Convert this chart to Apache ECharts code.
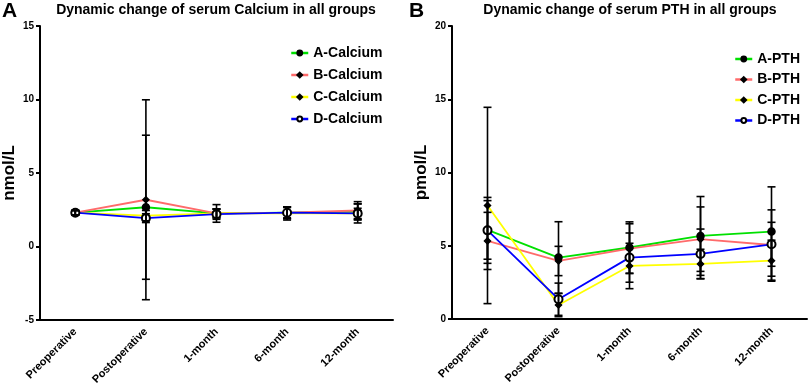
<!DOCTYPE html>
<html>
<head>
<meta charset="utf-8">
<script src="https://cdn.jsdelivr.net/npm/echarts@6/dist/echarts.min.js"></script>
<style>
html,body{margin:0;padding:0;background:#fff}
#main{width:809px;height:388px}
</style>
</head>
<body>
<div id="main"></div>
<script>
// time points
let categories = ['Preoperative', 'Postoperative', '1-month', '6-month', '12-month']

// serum calcium, mean and SD per group (nmol/L)
let calA = [2.3, 2.67, 2.25, 2.3, 2.35]
let calB = [2.3, 3.18, 2.25, 2.3, 2.45]
let calC = [2.3, 2.1, 2.25, 2.25, 2.25]
let calD = [2.3, 1.93, 2.2, 2.3, 2.25]
let calA_sd = [0.15, 4.9, 0.3, 0.4, 0.55]
let calB_sd = [0.15, 6.8, 0.3, 0.35, 0.6]
let calC_sd = [0.15, 0.35, 0.6, 0.45, 0.65]
let calD_sd = [0.15, 0.3, 0.35, 0.4, 0.35]

// serum PTH, mean and SD per group (pmol/L)
let pthA = [6.08, 4.19, 4.88, 5.67, 5.97]
let pthB = [5.33, 3.96, 4.8, 5.45, 5.05]
let pthC = [7.75, 0.96, 3.62, 3.76, 3.98]
let pthD = [6.05, 1.35, 4.19, 4.44, 5.1]
let pthA_sd = [2.0, 2.45, 1.75, 2.69, 3.05]
let pthB_sd = [1.95, 1.0, 1.7, 2.2, 2.4]
let pthC_sd = [6.7, 0.8, 1.55, 1.0, 1.4]
let pthD_sd = [2.25, 1.1, 1.68, 1.7, 1.5]

let calTicks = [-5, 0, 5, 10, 15]
let pthTicks = [0, 5, 10, 15, 20]

let font = 'Liberation Sans, Arial, sans-serif'

function errData(mean, sd) {
    return mean.map(function (m, i) {
        return [i, m - sd[i], m + sd[i]]
    })
}

function renderErr(params, api) {
    let x = api.value(0)
    let lo = api.coord([x, api.value(1)])
    let hi = api.coord([x, api.value(2)])
    let w = 4
    let st = {stroke: '#000', lineWidth: 1.6}
    return {
        type: 'group',
        children: [
            {type: 'line', shape: {x1: hi[0], y1: hi[1], x2: lo[0], y2: lo[1]}, style: st},
            {type: 'line', shape: {x1: hi[0] - w, y1: hi[1], x2: hi[0] + w, y2: hi[1]}, style: st},
            {type: 'line', shape: {x1: lo[0] - w, y1: lo[1], x2: lo[0] + w, y2: lo[1]}, style: st}
        ]
    }
}

let groups = [
    {key: 'A', color: '#00e000', symbol: 'circle', size: 7},
    {key: 'B', color: '#ff6b6b', symbol: 'diamond', size: 6},
    {key: 'C', color: '#ffff00', symbol: 'diamond', size: 6},
    {key: 'D', color: '#0000ff', symbol: 'emptyCircle', size: 8}
]

let calMeans = [calA, calB, calC, calD]
let calSds = [calA_sd, calB_sd, calC_sd, calD_sd]
let pthMeans = [pthA, pthB, pthC, pthD]
let pthSds = [pthA_sd, pthB_sd, pthC_sd, pthD_sd]

let series = []
groups.forEach(function (g, i) {
    series.push({
        name: g.key + '-Calcium', type: 'line', xAxisIndex: 0, yAxisIndex: 0,
        data: calMeans[i], symbol: g.symbol, symbolSize: g.size,
        lineStyle: {color: g.color, width: 1.8},
        itemStyle: {color: '#000', borderColor: '#000', borderWidth: 1.5},
        z: 3, animation: false
    })
    series.push({
        name: g.key + '-PTH', type: 'line', xAxisIndex: 1, yAxisIndex: 1,
        data: pthMeans[i], symbol: g.symbol, symbolSize: g.size,
        lineStyle: {color: g.color, width: 1.8},
        itemStyle: {color: '#000', borderColor: '#000', borderWidth: 1.5},
        z: 3, animation: false
    })
})
groups.forEach(function (g, i) {
    series.push({
        type: 'custom', xAxisIndex: 0, yAxisIndex: 0, renderItem: renderErr,
        data: errData(calMeans[i], calSds[i]), z: 4, silent: true, animation: false
    })
    series.push({
        type: 'custom', xAxisIndex: 1, yAxisIndex: 1, renderItem: renderErr,
        data: errData(pthMeans[i], pthSds[i]), z: 4, silent: true, animation: false
    })
})

function xAxisOf(idx) {
    return {
        type: 'category', gridIndex: idx, data: categories, boundaryGap: true,
        axisLine: {onZero: false, lineStyle: {color: '#000', width: 2}},
        axisTick: {alignWithLabel: true, length: 5, lineStyle: {color: '#000', width: 2}},
        axisLabel: {rotate: 45, color: '#000', fontWeight: 'bold', fontSize: 11, fontFamily: font, margin: 10}
    }
}
function yAxisOf(idx, ticks, name) {
    return {
        type: 'value', gridIndex: idx, min: ticks[0], max: ticks[ticks.length - 1], interval: 5,
        name: name, nameLocation: 'middle', nameGap: 22, nameRotate: 90,
        nameTextStyle: {color: '#000', fontWeight: 'bold', fontSize: 17, fontFamily: font},
        splitLine: {show: false},
        axisLine: {show: true, onZero: false, lineStyle: {color: '#000', width: 2}},
        axisTick: {show: true, length: 4, lineStyle: {color: '#000', width: 2}},
        axisLabel: {color: '#000', fontWeight: 'bold', fontSize: 10, fontFamily: font, margin: 6}
    }
}

let legendText = {color: '#000', fontWeight: 'bold', fontSize: 14, fontFamily: font}

let option = {
    animation: false,
    backgroundColor: '#fff',
    title: [
        {text: 'Dynamic change of serum Calcium in all groups', left: 216, top: 3, padding: 0, textAlign: 'center',
            textStyle: {fontSize: 14, fontWeight: 'bold', color: '#000', fontFamily: font}},
        {text: 'Dynamic change of serum PTH in all groups', left: 630, top: 3, padding: 0, textAlign: 'center',
            textStyle: {fontSize: 14, fontWeight: 'bold', color: '#000', fontFamily: font}},
        {text: 'A', left: 2, top: 1, padding: 0, textStyle: {fontSize: 21, fontWeight: 'bold', color: '#000', fontFamily: font}},
        {text: 'B', left: 409, top: 1, padding: 0, textStyle: {fontSize: 21, fontWeight: 'bold', color: '#000', fontFamily: font}}
    ],
    legend: [
        {left: 285, top: 41, orient: 'vertical', itemWidth: 17, itemHeight: 6, itemGap: 8,
            lineStyle: {width: 2.5}, data: groups.map(g => g.key + '-Calcium'), textStyle: legendText},
        {left: 729, top: 47, orient: 'vertical', itemWidth: 17, itemHeight: 6, itemGap: 6.5,
            lineStyle: {width: 2.5}, data: groups.map(g => g.key + '-PTH'), textStyle: legendText}
    ],
    grid: [
        {left: 39, top: 26, width: 354, height: 294, containLabel: false},
        {left: 452, top: 26, width: 355, height: 293, containLabel: false}
    ],
    xAxis: [xAxisOf(0), xAxisOf(1)],
    yAxis: [yAxisOf(0, calTicks, 'nmol/L'), yAxisOf(1, pthTicks, 'pmol/L')],
    series: series
}

let myChart = echarts.init(document.getElementById('main'))
myChart.setOption(option)
</script>
</body>
</html>
